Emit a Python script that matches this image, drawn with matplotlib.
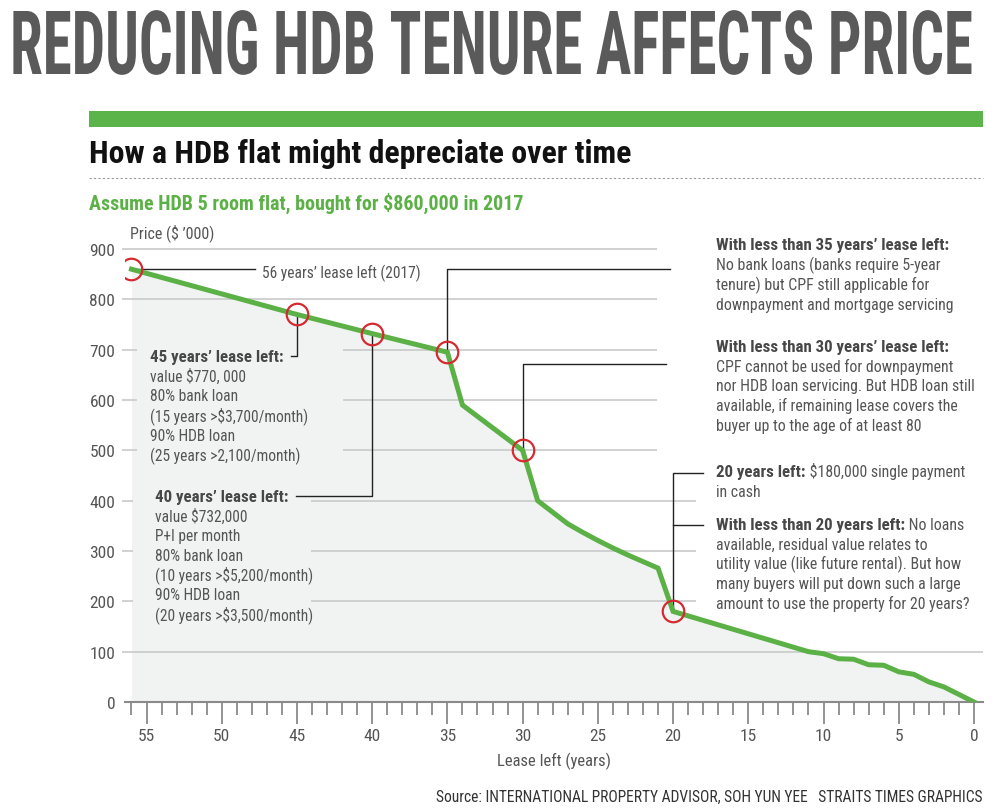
import matplotlib
matplotlib.use("Agg")
import matplotlib.pyplot as plt
from matplotlib import font_manager as fm
from matplotlib.patches import Rectangle
from matplotlib.patheffects import AbstractPathEffect
from matplotlib.transforms import Affine2D

# ---------------- data ----------------
lease_years = [56, 45, 40, 35, 34, 30, 29, 28, 27, 26, 25, 24, 23, 22, 21, 20,
               11, 10, 9, 8, 7, 6, 5, 4, 3, 2, 0]
price_k = [860, 770, 732, 695, 590, 500, 400, 377, 354, 337, 321, 306, 292, 279, 266, 180,
           100, 96, 86, 85, 74, 73, 60, 55, 40, 30, 0]
highlight_years = [56, 45, 40, 35, 30, 20]
highlight_price = [860, 770, 732, 695, 500, 180]
y_ticks = [0, 100, 200, 300, 400, 500, 600, 700, 800, 900]
x_major = [55, 50, 45, 40, 35, 30, 25, 20, 15, 10, 5, 0]

title = "REDUCING HDB TENURE AFFECTS PRICE"
subtitle = "How a HDB flat might depreciate over time"
assume = "Assume HDB 5 room flat, bought for $860,000 in 2017"
y_label = "Price ($ \u2019000)"
x_label = "Lease left (years)"
source = "Source: INTERNATIONAL PROPERTY ADVISOR, SOH YUN YEE   STRAITS TIMES GRAPHICS"

note56 = "56 years\u2019 lease left (2017)"
note45_head = "45 years\u2019 lease left:"
note45_body = ["value $770, 000", "80% bank loan", "(15 years >$3,700/month)",
               "90% HDB loan", "(25 years >2,100/month)"]
note40_head = "40 years\u2019 lease left:"
note40_body = ["value $732,000", "P+I per month", "80% bank loan",
               "(10 years >$5,200/month)", "90% HDB loan", "(20 years >$3,500/month)"]
note35_head = "With less than 35 years\u2019 lease left:"
note35_body = ["No bank loans (banks require 5-year", "tenure) but CPF still applicable for",
               "downpayment and mortgage servicing"]
note30_head = "With less than 30 years\u2019 lease left:"
note30_body = ["CPF cannot be used for downpayment", "nor HDB loan servicing. But HDB loan still",
               "available, if remaining lease covers the", "buyer up to the age of at least 80"]
note20a = ("20 years left:", " $180,000 single payment")
note20a_body = ["in cash"]
note20b = ("With less than 20 years left:", " No loans")
note20b_body = ["available, residual value relates to", "utility value (like future rental). But how",
                "many buyers will put down such a large", "amount to use the property for 20 years?"]

# ---------------- fonts ----------------
names = {f.name for f in fm.fontManager.ttflist}
stretch = "normal"
FONT = None
for cand in ["Roboto Condensed", "Liberation Sans Narrow", "Open Sans Condensed",
             "Noto Sans Condensed"]:
    if cand in names:
        FONT = cand
        break
if FONT is None:
    if any(f.name == "DejaVu Sans" and f.stretch == "condensed" for f in fm.fontManager.ttflist):
        FONT = "DejaVu Sans"
        stretch = "condensed"
    else:
        FONT = "Roboto"

W, H = 1000, 812
def fx(x):
    return x / W
def fy(y):
    return 1 - y / H

GREEN = "#5bb146"
RED = "#d42a30"
GREY = "#555555"
DARK = "#474747"
FILL = "#f1f3f3"
GRID = "#c9c9c9"
CAP = 0.711  # cap height / em


class VStretch(AbstractPathEffect):
    """Stretch drawn text vertically about a baseline (display pixels)."""
    def __init__(self, sy, y0):
        super().__init__()
        self.sy = sy
        self.y0 = y0

    def draw_path(self, renderer, gc, tpath, affine, rgbFace=None):
        a = affine + Affine2D().translate(0, -self.y0).scale(1, self.sy).translate(0, self.y0)
        renderer.draw_path(gc, tpath, a, rgbFace)


fig = plt.figure(figsize=(W / 100, H / 100), dpi=100)
fig.patch.set_facecolor("white")
renderer = fig.canvas.get_renderer()

def put(x, y, s, size, weight="normal", color=GREY, ha="left", va="center"):
    return fig.text(fx(x), fy(y), s, fontsize=size, fontweight=weight, color=color,
                    ha=ha, va=va, family=FONT, fontstretch=stretch)

def line(x, yc, s, size, weight="normal", color=GREY):
    """Text whose capitals are centred on yc (pixels from top)."""
    base = yc + 0.5 * CAP * size * 100 / 72
    return put(x, base, s, size, weight, color, va="baseline")

def width_px(t):
    return t.get_window_extent(renderer).width

def fit(t, target):
    w = width_px(t)
    t.set_fontsize(t.get_fontsize() * target / w)
    return t

def fitted_size(s, target, weight="normal"):
    t = fit(put(0, -200, s, 12, weight), target)
    fs = t.get_fontsize()
    t.remove()
    return fs

# ---- header texts ----
tt = fit(put(10, 75, title, 60, "bold", "#5a5a5a", va="baseline"), 963)
cap_px = CAP * tt.get_fontsize() * 100 / 72
tt.set_path_effects([VStretch(63 / cap_px, H - 75)])
fig.add_artist(Rectangle((fx(89), fy(128)), fx(983) - fx(89), fy(112) - fy(128),
                         transform=fig.transFigure, color="#5ab44a", lw=0))
fit(put(89, 154, subtitle, 20, "bold", "#111111"), 540)
fig.add_artist(plt.Line2D([fx(89), fx(983)], [fy(179), fy(179)], transform=fig.transFigure,
                          color="#9a9a9a", lw=0.8, ls=(0, (2, 2))))
fit(put(89, 203, assume, 13, "bold", GREEN), 433)
put(130, 233, y_label, 11.5, color=GREY)
fit(put(983, 797, source, 10, color="#333333", ha="right"), 548)

# ---------------- axes ----------------
ax = fig.add_axes([fx(125), fy(703), fx(983) - fx(125), fy(240) - fy(703)])
ax.set_xlim(56.43, -0.6)
ax.set_ylim(0, 920)
ax.set_facecolor("none")
for s in ["top", "left", "right"]:
    ax.spines[s].set_visible(False)
ax.spines["bottom"].set_color("#8a8a8a")
ax.spines["bottom"].set_linewidth(1.5)

ax.fill_between(lease_years, price_k, 0, color=FILL, lw=0, zorder=0)

# grid lines with differing extents
g1 = ax.hlines([900, 800, 700, 600, 500], 56.6, 21.1, color=GRID, lw=1.2, zorder=1)
g2 = ax.hlines([400, 300, 200], 56.6, 18.5, color=GRID, lw=1.2, zorder=1)
g3 = ax.hlines([100], 56.6, -0.6, color=GRID, lw=1.2, zorder=1)
for g in (g1, g2, g3):
    g.set_clip_on(False)

# masks behind the left notes
for (x0, x1, y0, y1) in [(137, 343, 345, 470), (133, 311, 488, 624)]:
    ax.add_patch(Rectangle((fx(x0), fy(y1)), fx(x1) - fx(x0), fy(y0) - fy(y1),
                           transform=fig.transFigure, color=FILL, lw=0, zorder=1.5))

ax.plot(lease_years, price_k, color=GREEN, lw=3.6, solid_joinstyle="miter", zorder=3)
ax.plot(highlight_years, highlight_price, ls="none", marker="o", ms=15.5, mfc="none",
        mec=RED, mew=1.6, zorder=4)

# connectors
CL = dict(color="#222222", lw=1.0, zorder=2.5)
ax.plot([56, 47.8], [860, 860], **CL)
ax.plot([45, 45, 45.42], [770, 687, 687], **CL)
ax.plot([40, 40, 45.05], [732, 409, 409], **CL)
ax.plot([35, 35, 20.2], [695, 860, 860], **CL)
ax.plot([30, 30, 20.5], [500, 671, 671], **CL)
ax.plot([20, 20, 18.0], [180, 455, 455], **CL)
ax.plot([20, 18.0], [352, 352], **CL)

# ticks
ax.set_xticks(x_major)
ax.set_xticks(list(range(0, 57)), minor=True)
ax.tick_params(axis="x", which="major", length=16, width=1.3, color="#8a8a8a",
               direction="out", pad=3, labelsize=12.5, labelcolor=GREY)
ax.tick_params(axis="x", which="minor", length=9.5, width=1.3, color="#8a8a8a", direction="out")
ax.set_yticks(y_ticks)
ax.tick_params(axis="y", length=0, pad=7, labelsize=12.5, labelcolor=GREY)
for lab in ax.get_xticklabels() + ax.get_yticklabels():
    lab.set_family(FONT)
    lab.set_fontstretch(stretch)
ax.set_xlabel(x_label, fontsize=12, color=GREY, family=FONT, fontstretch=stretch, labelpad=6)

# ---------------- notes ----------------
BS_L = fitted_size(note45_body[2], 158)            # left body text
BH_L = fitted_size(note45_head, 133, "bold")       # left headings
BS_R = fitted_size(note30_body[1], 260)            # right body text
BH_R = fitted_size(note35_head, 233, "bold")       # right headings

def block(x, y0, lines, step, size):
    for i, s in enumerate(lines):
        line(x, y0 + i * step, s, size, color=GREY)

def mixed(x, y, bold, rest):
    t = line(x, y, bold, BH_R, "bold", DARK)
    w = width_px(t)
    line(x + w, y, rest, BS_R, color=GREY)

line(262, 273, note56, BS_L, color=GREY)
line(150, 356, note45_head, BH_L, "bold", DARK)
block(150, 376, note45_body, 19.8, BS_L)
line(155, 496, note40_head, BH_L, "bold", DARK)
block(155, 516, note40_body, 19.7, BS_L)
line(716, 244, note35_head, BH_R, "bold", DARK)
block(716, 264, note35_body, 20, BS_R)
line(716, 346, note30_head, BH_R, "bold", DARK)
block(716, 366, note30_body, 19.8, BS_R)
mixed(716, 471, *note20a)
block(716, 491, note20a_body, 20, BS_R)
mixed(716, 524, *note20b)
block(716, 544, note20b_body, 19.8, BS_R)

fig.savefig("out.png", dpi=100)
